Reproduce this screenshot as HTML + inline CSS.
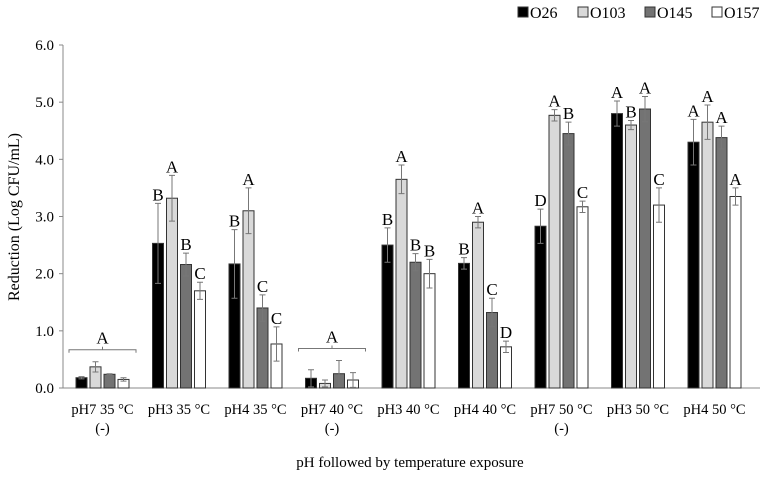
<!DOCTYPE html>
<html><head><meta charset="utf-8"><style>
body{margin:0;background:#fff;}
svg text{font-family:"Liberation Serif",serif;fill:#000;}
</style></head><body>
<svg id="chart" width="767" height="475" xmlns="http://www.w3.org/2000/svg">
<g id="legend"></g>
<g id="axes"></g>
<g id="bars"></g>
</svg>
<script>
const categories=["pH7 35 °C","pH3 35 °C","pH4 35 °C","pH7 40 °C","pH3 40 °C","pH4 40 °C","pH7 50 °C","pH3 50 °C","pH4 50 °C"];
const subLabels=["(-)","","","(-)","","","(-)","",""];
const seriesNames=["O26","O103","O145","O157"];
const o26=[0.18,2.53,2.17,0.17,2.50,2.18,2.83,4.80,4.30];
const o103=[0.37,3.32,3.10,0.08,3.65,2.90,4.77,4.60,4.65];
const o145=[0.24,2.16,1.40,0.25,2.20,1.32,4.45,4.88,4.38];
const o157=[0.15,1.70,0.77,0.14,2.00,0.72,3.17,3.20,3.35];
const e26=[0.02,0.70,0.60,0.15,0.30,0.10,0.30,0.22,0.40];
const e103=[0.09,0.40,0.40,0.06,0.25,0.10,0.10,0.08,0.30];
const e145=[0.01,0.20,0.23,0.23,0.15,0.25,0.20,0.22,0.20];
const e157=[0.03,0.15,0.30,0.13,0.25,0.10,0.10,0.30,0.15];
const l26=["","B","B","","B","B","D","A","A"];
const l103=["","A","A","","A","A","A","B","A"];
const l145=["","B","C","","B","C","B","A","A"];
const l157=["","C","C","","B","D","C","C","A"];
const groupLetters=["A","","","A","","","","",""];
const yTicks=[0,1,2,3,4,5,6];

const NS="http://www.w3.org/2000/svg";
const y0=388,y6=45,axisX=63,firstBar=76,groupStep=76.5,barStep=14,barW=11;
const yScale=v=>y0-(y0-y6)*v/6;
const xBar=(g,s)=>firstBar+g*groupStep+s*barStep;
const xCenter=g=>firstBar+g*groupStep+(3*barStep+barW)/2;
function mk(tag,attrs,parent,text){const e=document.createElementNS(NS,tag);for(const k in attrs)e.setAttribute(k,attrs[k]);if(text!==undefined)e.textContent=text;parent.appendChild(e);return e;}
const axes=document.getElementById('axes'),bars=document.getElementById('bars'),legend=document.getElementById('legend');
let el=mk('line',{x1:axisX,y1:y6,x2:axisX,y2:y0,stroke:'#888','stroke-width':1},axes);

el=mk('line',{x1:axisX,y1:y0,x2:760,y2:y0,stroke:'#888','stroke-width':1},axes);

yTicks.forEach(t=>{
  const y=yScale(t);
  const tk=mk('line',{x1:axisX-4,y1:y,x2:axisX,y2:y,stroke:'#888'},axes);
  
  const tl=mk('text',{x:axisX-9,y:y+5,'text-anchor':'end','font-size':15},axes,t.toFixed(1));
  
});
el=mk('text',{x:0,y:0,'text-anchor':'middle','font-size':16,transform:'translate(19,217) rotate(-90)'},axes,'Reduction (Log CFU/mL)');

el=mk('text',{x:410,y:467,'text-anchor':'middle','font-size':15},axes,'pH followed by temperature exposure');

categories.forEach((c,g)=>{
  const t=mk('text',{x:xCenter(g),y:414,'text-anchor':'middle','font-size':14.5},axes,c);
  
  if(subLabels[g]){const s=mk('text',{x:xCenter(g),y:433,'text-anchor':'middle','font-size':14.5},axes,subLabels[g]);
  }
});
const vals=[o26,o103,o145,o157],errs=[e26,e103,e145,e157],lets=[l26,l103,l145,l157];
const fills=['#000','#d9d9d9','#737373','#fff'];
categories.forEach((c,g)=>{
  for(let s=0;s<4;s++){
    const v=vals[s][g],e=errs[s][g],x=xBar(g,s),y=yScale(v);
    const r=mk('rect',{x:x,y:y,width:barW,height:y0-y,fill:fills[s],stroke:'#333','stroke-width':1},bars);
    
    const cx=x+barW/2,yt=yScale(v+e),yb=yScale(Math.max(0,v-e));
    const eb=mk('path',{d:`M${cx},${yt}V${yb}M${cx-3},${yt}H${cx+3}M${cx-3},${yb}H${cx+3}`,stroke:'#777',fill:'none','stroke-width':1},bars);
    
    if(lets[s][g]){const lt=mk('text',{x:cx,y:yt-3,'text-anchor':'middle','font-size':17},bars,lets[s][g]);
    }
  }
  if(groupLetters[g]){
    const mx=Math.max(...vals.map((a,i)=>a[g]+errs[i][g]));
    const by=yScale(mx)-12,xl=xBar(g,0)-7,xr=xBar(g,3)+barW+7,cx=xCenter(g);
    const br=mk('path',{d:`M${xl},${by+3}V${by}H${xr}V${by+3}M${cx},${by}V${by-3}`,stroke:'#777',fill:'none'},bars);
    
    const lt=mk('text',{x:cx,y:by-6,'text-anchor':'middle','font-size':17},bars,groupLetters[g]);
    
  }
});
const legX=[518,578,645,712];
seriesNames.forEach((n,i)=>{
  const r=mk('rect',{x:legX[i],y:7,width:10,height:10,fill:fills[i],stroke:'#333'},legend);
  
  const t=mk('text',{x:legX[i]+12,y:18,'font-size':16},legend,n);
  
});
</script>
</body></html>
